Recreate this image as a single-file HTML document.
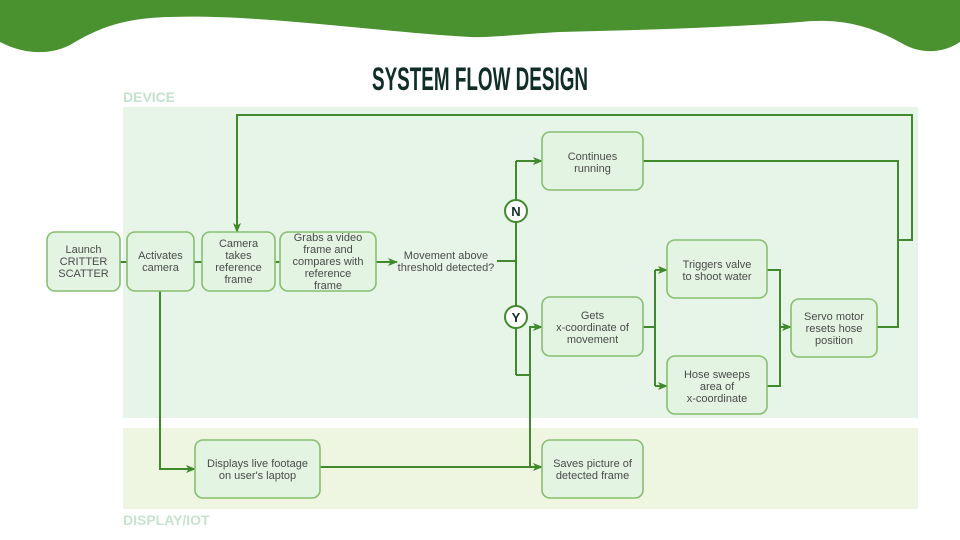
<!DOCTYPE html>
<html><head><meta charset="utf-8"><style>
body{margin:0;width:960px;height:540px;overflow:hidden;background:#fff;font-family:"Liberation Sans",sans-serif}
svg{display:block}
.b{fill:#e4f4e3;stroke:#86bf6e;stroke-width:1.6}
.t{font-family:"Liberation Sans",sans-serif;font-size:11px;fill:#4a4a4a;text-anchor:middle}
.l{fill:none;stroke:#3f8a2a;stroke-width:2}
</style></head><body>
<svg width="960" height="540" viewBox="0 0 960 540">
<defs><marker id="a" markerWidth="10" markerHeight="10" refX="9" refY="5" orient="auto" markerUnits="userSpaceOnUse"><path d="M0,1 L10,5 L0,9 L2.5,5z" fill="#3f8a2a"/></marker></defs>
<path d="M0,0 H960 V42 C945,52 925,55 905,45 C870,25 840,18 800,22 C720,28 640,30 560,32 C520,34 490,38 470,37 C380,32 260,14 170,17 C120,18 95,30 70,45 C50,55 25,55 0,42 Z" fill="#4a912f"/>
<text x="480" y="90" text-anchor="middle" font-family="'Liberation Sans Narrow','Liberation Sans',sans-serif" font-weight="bold" font-size="32" fill="#0f2e28" transform="translate(480,0) scale(0.59,1) translate(-480,0)">SYSTEM FLOW DESIGN</text>
<text x="123" y="102" font-weight="bold" font-size="14" fill="#c3e2cc">DEVICE</text>
<text x="123" y="525" font-weight="bold" font-size="14" fill="#c7e2cf">DISPLAY/IOT</text>
<rect x="123" y="107" width="795" height="311" fill="#e6f5e8"/>
<rect x="123" y="428" width="795" height="81" fill="#eef5e0"/>
<path class="l" d="M120,262 H127 M194,262 H202 M275,262 H280"/>
<path class="l" d="M376,262 H397" marker-end="url(#a)"/>
<path class="l" d="M497,261 H516 M516,375 V161"/>
<path class="l" d="M516,161 H542" marker-end="url(#a)"/>
<path class="l" d="M516,375 H530"/>
<path class="l" d="M530,467 V327 H542" marker-end="url(#a)"/>
<path class="l" d="M160,291 V469 H195" marker-end="url(#a)"/>
<path class="l" d="M320,467 H542" marker-end="url(#a)"/>
<path class="l" d="M643,327 H655 M655,270 V386"/>
<path class="l" d="M655,270 H667" marker-end="url(#a)"/>
<path class="l" d="M655,386 H667" marker-end="url(#a)"/>
<path class="l" d="M767,270 H780 V386 H767"/>
<path class="l" d="M780,327 H791" marker-end="url(#a)"/>
<path class="l" d="M877,327 H898 V161 H643 M898,240 H912 V115 H237 V232" marker-end="url(#a)"/>
<rect class="b" x="47" y="232" width="73" height="59" rx="8"/>
<text class="t"><tspan x="83.5" y="253">Launch</tspan><tspan x="83.5" y="265">CRITTER</tspan><tspan x="83.5" y="277">SCATTER</tspan></text>
<rect class="b" x="127" y="232" width="67" height="59" rx="8"/>
<text class="t"><tspan x="160.5" y="259">Activates</tspan><tspan x="160.5" y="271">camera</tspan></text>
<rect class="b" x="202" y="232" width="73" height="59" rx="8"/>
<text class="t"><tspan x="238.5" y="247">Camera</tspan><tspan x="238.5" y="259">takes</tspan><tspan x="238.5" y="271">reference</tspan><tspan x="238.5" y="283">frame</tspan></text>
<rect class="b" x="280" y="232" width="96" height="59" rx="8"/>
<text class="t"><tspan x="328" y="241">Grabs a video</tspan><tspan x="328" y="253">frame and</tspan><tspan x="328" y="265">compares with</tspan><tspan x="328" y="277">reference</tspan><tspan x="328" y="289">frame</tspan></text>
<text class="t"><tspan x="446" y="259">Movement above</tspan><tspan x="446" y="271">threshold detected?</tspan></text>
<rect class="b" x="542" y="132" width="101" height="58" rx="8"/>
<text class="t"><tspan x="592.5" y="160">Continues</tspan><tspan x="592.5" y="172">running</tspan></text>
<rect class="b" x="542" y="297" width="101" height="59" rx="8"/>
<text class="t"><tspan x="592.5" y="319">Gets</tspan><tspan x="592.5" y="331">x-coordinate of</tspan><tspan x="592.5" y="343">movement</tspan></text>
<rect class="b" x="667" y="240" width="100" height="58" rx="8"/>
<text class="t"><tspan x="717" y="268">Triggers valve</tspan><tspan x="717" y="280">to shoot water</tspan></text>
<rect class="b" x="667" y="356" width="100" height="58" rx="8"/>
<text class="t"><tspan x="717" y="378">Hose sweeps</tspan><tspan x="717" y="390">area of</tspan><tspan x="717" y="402">x-coordinate</tspan></text>
<rect class="b" x="791" y="299" width="86" height="58" rx="8"/>
<text class="t"><tspan x="834" y="320">Servo motor</tspan><tspan x="834" y="332">resets hose</tspan><tspan x="834" y="344">position</tspan></text>
<rect class="b" x="195" y="440" width="125" height="58" rx="8"/>
<text class="t"><tspan x="257.5" y="467">Displays live footage</tspan><tspan x="257.5" y="479">on user's laptop</tspan></text>
<rect class="b" x="542" y="440" width="101" height="58" rx="8"/>
<text class="t"><tspan x="592.5" y="467">Saves picture of</tspan><tspan x="592.5" y="479">detected frame</tspan></text>
<circle cx="516" cy="211" r="11" fill="#fff" stroke="#3f8a2a" stroke-width="2"/>
<text x="516" y="216" text-anchor="middle" font-weight="bold" font-size="13" fill="#0f2e28">N</text>
<circle cx="516" cy="317" r="11" fill="#fff" stroke="#3f8a2a" stroke-width="2"/>
<text x="516" y="322" text-anchor="middle" font-weight="bold" font-size="13" fill="#0f2e28">Y</text>
</svg>
</body></html>
